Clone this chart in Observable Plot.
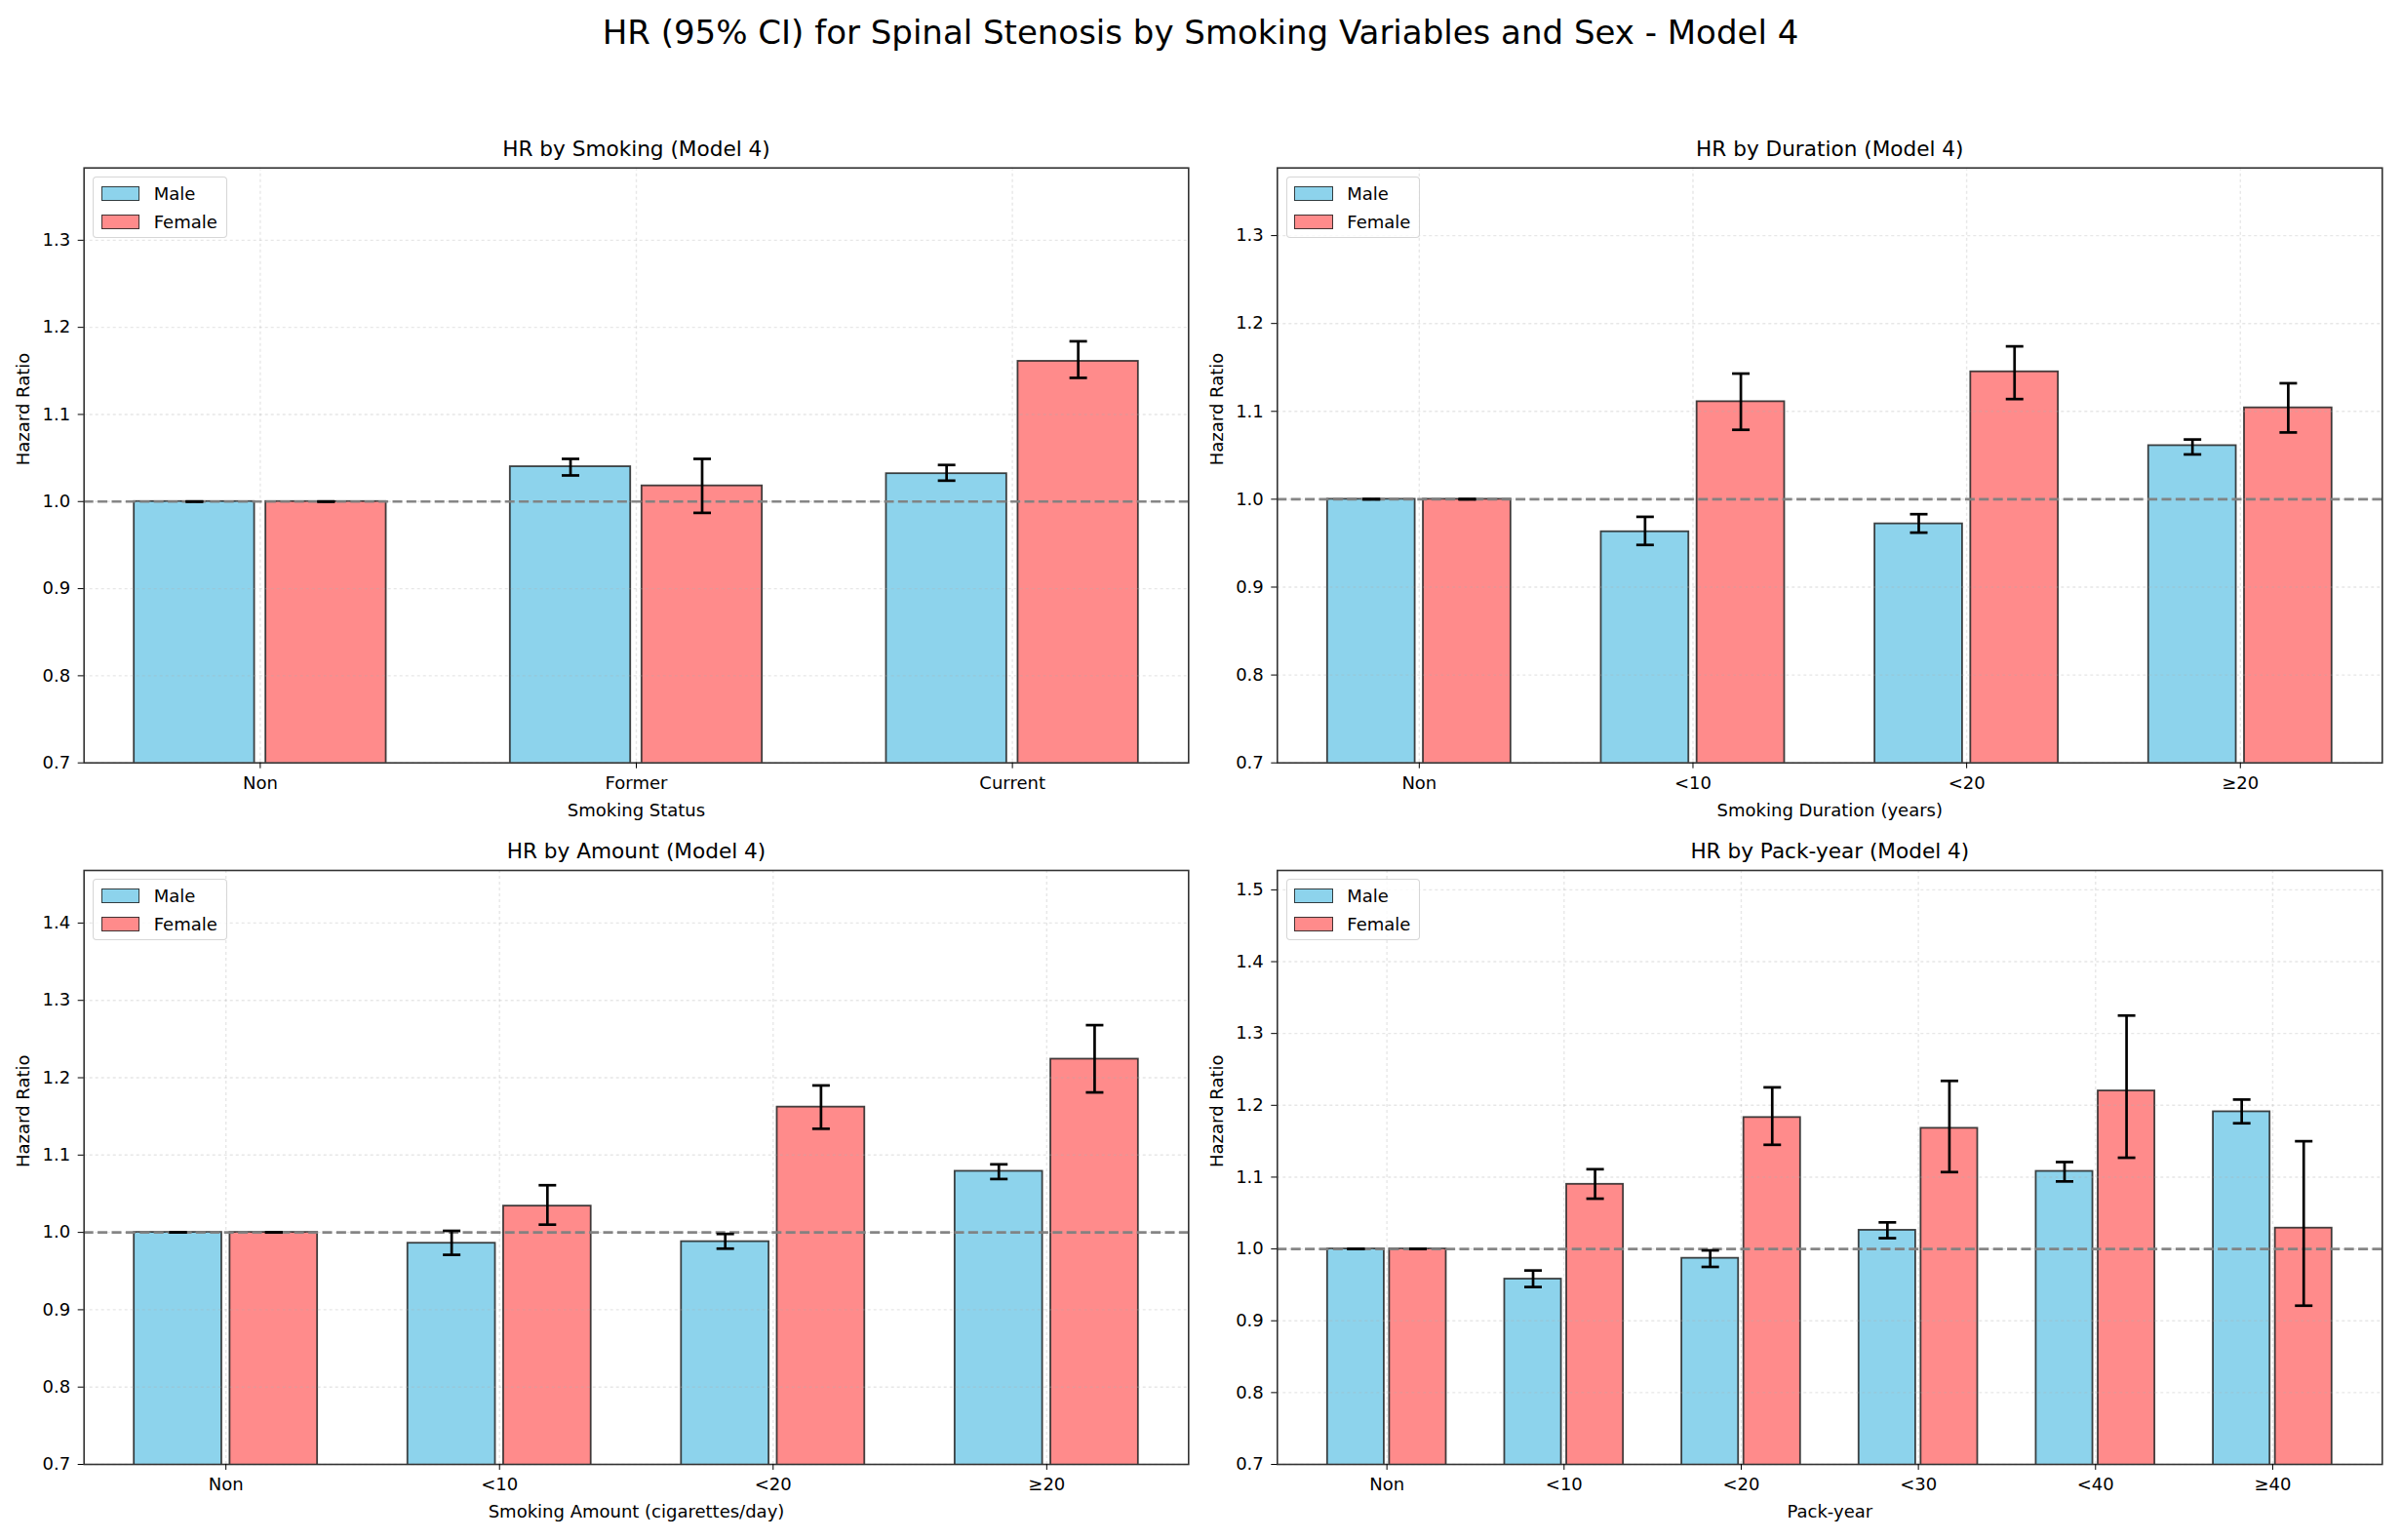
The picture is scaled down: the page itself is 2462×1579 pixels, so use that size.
<!DOCTYPE html>
<html>
<head>
<meta charset="utf-8">
<script src="https://cdn.jsdelivr.net/npm/d3@7"></script>
<script src="https://cdn.jsdelivr.net/npm/@observablehq/plot@0.6"></script>
<style>
  html, body { margin: 0; padding: 0; background: #fff; }
  #root { position: relative; width: 2462px; height: 1579px; overflow: hidden; background: #fff;
          font-family: "DejaVu Sans", sans-serif; color: #000; }
  .suptitle { position: absolute; left: 0; top: 16px; width: 2462px; text-align: center;
              font-size: 34px; line-height: 34px; white-space: nowrap; }
  .panel { position: absolute; }
  .legend { position: absolute; box-sizing: border-box; background: rgba(255,255,255,0.8);
            border: 1.5px solid rgba(204,204,204,0.8); border-radius: 4px; }
  .legend .sw { position: absolute; box-sizing: border-box; border: 1.8px solid rgba(34,34,34,0.85); }
  .legend .lb { position: absolute; font-size: 18px; line-height: 18px; white-space: nowrap; }
</style>
</head>
<body>
<div id="root">
  <div class="suptitle">HR (95% CI) for Spinal Stenosis by Smoking Variables and Sex - Model 4</div>
</div>
<script>
// ---------------- Data ----------------
const sexes = ["Male", "Female"];
const sexColors = ["#8DD3EC", "#FF8B8B"];
const referenceHR = 1.0;

// Smoking status
const smokingCategories = ["Non", "Former", "Current"];
const smokingMaleHR   = [1.000, 1.040, 1.032];
const smokingMaleLo   = [1.000, 1.030, 1.024];
const smokingMaleHi   = [1.000, 1.049, 1.042];
const smokingFemaleHR = [1.000, 1.018, 1.161];
const smokingFemaleLo = [1.000, 0.987, 1.142];
const smokingFemaleHi = [1.000, 1.049, 1.184];

// Smoking duration (years)
const durationCategories = ["Non", "<10", "<20", "≥20"];
const durationMaleHR   = [1.000, 0.963, 0.972, 1.061];
const durationMaleLo   = [1.000, 0.948, 0.962, 1.051];
const durationMaleHi   = [1.000, 0.980, 0.983, 1.068];
const durationFemaleHR = [1.000, 1.111, 1.145, 1.104];
const durationFemaleLo = [1.000, 1.079, 1.114, 1.076];
const durationFemaleHi = [1.000, 1.143, 1.174, 1.132];

// Smoking amount (cigarettes/day)
const amountCategories = ["Non", "<10", "<20", "≥20"];
const amountMaleHR   = [1.000, 0.986, 0.988, 1.079];
const amountMaleLo   = [1.000, 0.971, 0.979, 1.069];
const amountMaleHi   = [1.000, 1.002, 0.998, 1.088];
const amountFemaleHR = [1.000, 1.034, 1.162, 1.224];
const amountFemaleLo = [1.000, 1.010, 1.134, 1.181];
const amountFemaleHi = [1.000, 1.061, 1.190, 1.268];

// Pack-year
const packCategories = ["Non", "<10", "<20", "<30", "<40", "≥40"];
const packMaleHR   = [1.000, 0.958, 0.987, 1.026, 1.108, 1.191];
const packMaleLo   = [1.000, 0.947, 0.975, 1.015, 1.094, 1.175];
const packMaleHi   = [1.000, 0.970, 0.998, 1.037, 1.121, 1.208];
const packFemaleHR = [1.000, 1.090, 1.183, 1.168, 1.220, 1.029];
const packFemaleLo = [1.000, 1.070, 1.145, 1.107, 1.127, 0.921];
const packFemaleHi = [1.000, 1.111, 1.225, 1.234, 1.325, 1.150];

// Y tick labels
const yTicks13 = [0.7, 0.8, 0.9, 1.0, 1.1, 1.2, 1.3];
const yTicks14 = [0.7, 0.8, 0.9, 1.0, 1.1, 1.2, 1.3, 1.4];
const yTicks15 = [0.7, 0.8, 0.9, 1.0, 1.1, 1.2, 1.3, 1.4, 1.5];

const panels = [
  { title: "HR by Smoking (Model 4)", xLabel: "Smoking Status", cats: smokingCategories,
    m: [smokingMaleHR, smokingMaleLo, smokingMaleHi], f: [smokingFemaleHR, smokingFemaleLo, smokingFemaleHi],
    yMin: 0.7, yMax: 1.383, yTicks: yTicks13, col: 0, row: 0 },
  { title: "HR by Duration (Model 4)", xLabel: "Smoking Duration (years)", cats: durationCategories,
    m: [durationMaleHR, durationMaleLo, durationMaleHi], f: [durationFemaleHR, durationFemaleLo, durationFemaleHi],
    yMin: 0.7, yMax: 1.377, yTicks: yTicks13, col: 1, row: 0 },
  { title: "HR by Amount (Model 4)", xLabel: "Smoking Amount (cigarettes/day)", cats: amountCategories,
    m: [amountMaleHR, amountMaleLo, amountMaleHi], f: [amountFemaleHR, amountFemaleLo, amountFemaleHi],
    yMin: 0.7, yMax: 1.468, yTicks: yTicks14, col: 0, row: 1 },
  { title: "HR by Pack-year (Model 4)", xLabel: "Pack-year", cats: packCategories,
    m: [packMaleHR, packMaleLo, packMaleHi], f: [packFemaleHR, packFemaleLo, packFemaleHi],
    yMin: 0.7, yMax: 1.527, yTicks: yTicks15, col: 1, row: 1 }
];

// ---------------- Layout ----------------
const colGeom = [
  { left: 0,    width: 1231, marginLeft: 85.7, marginRight: 12.7 },
  { left: 1231, width: 1231, marginLeft: 78.3, marginRight: 19.7 }
];
const rowGeom = [
  { top: 130, height: 720, marginTop: 41.7, marginBottom: 68.3 },
  { top: 850, height: 729, marginTop: 42.0, marginBottom: 78.0 }
];
const barOffset = 0.175, barHalf = 0.16, barExtent = 0.335;

const capSymbol = { draw(ctx) { ctx.moveTo(-9, 0); ctx.lineTo(9, 0); } };

const root = document.getElementById("root");

panels.forEach(p => {
  const cg = colGeom[p.col], rg = rowGeom[p.row];
  const n = p.cats.length;
  const pad = 0.05 * (n - 1 + 2 * barExtent);
  const rows = [];
  p.cats.forEach((c, i) => {
    rows.push({ cat: c, i, sex: "Male", pos: i - barOffset, hr: p.m[0][i], lo: p.m[1][i], hi: p.m[2][i] });
    rows.push({ cat: c, i, sex: "Female", pos: i + barOffset, hr: p.f[0][i], lo: p.f[1][i], hi: p.f[2][i] });
  });
  const idx = d3.range(n);

  const chart = Plot.plot({
    width: cg.width,
    height: rg.height,
    marginLeft: cg.marginLeft,
    marginRight: cg.marginRight,
    marginTop: rg.marginTop,
    marginBottom: rg.marginBottom,
    style: { fontFamily: "DejaVu Sans, sans-serif", fontSize: "18px", color: "#000", background: "white", overflow: "visible" },
    x: { type: "linear", domain: [-barExtent - pad, n - 1 + barExtent + pad] },
    y: { type: "linear", domain: [p.yMin, p.yMax] },
    color: { domain: sexes, range: sexColors },
    marks: [
      Plot.rectY(rows, {
        x1: d => d.pos - barHalf, x2: d => d.pos + barHalf,
        y1: () => 0, y2: "hr",
        fill: "sex", stroke: "#222", strokeOpacity: 0.85, strokeWidth: 1.8, clip: true
      }),
      Plot.gridX(idx, { stroke: "#b0b0b0", strokeOpacity: 0.3, strokeWidth: 1.4, strokeDasharray: "3,3" }),
      Plot.gridY(p.yTicks, { stroke: "#b0b0b0", strokeOpacity: 0.3, strokeWidth: 1.4, strokeDasharray: "3,3" }),
      Plot.ruleY([referenceHR], { stroke: "#808080", strokeOpacity: 0.95, strokeWidth: 2.7, strokeDasharray: "10,4.4" }),
      Plot.ruleX(rows, { x: "pos", y1: "lo", y2: "hi", stroke: "black", strokeWidth: 2.7 }),
      Plot.dot(rows, { x: "pos", y: "lo", symbol: capSymbol, fill: "none", stroke: "black", strokeWidth: 2.7 }),
      Plot.dot(rows, { x: "pos", y: "hi", symbol: capSymbol, fill: "none", stroke: "black", strokeWidth: 2.7 }),
      Plot.frame({ stroke: "#333", strokeWidth: 1.6 }),
      Plot.axisX({ ticks: idx, tickFormat: i => p.cats[i], tickSize: 6, tickPadding: 8, fontSize: 18, label: null }),
      Plot.axisY({ ticks: p.yTicks, tickFormat: d3.format(".1f"), tickSize: 6, tickPadding: 8, fontSize: 18, label: null }),
      Plot.text([p.title], { frameAnchor: "top", lineAnchor: "middle", dy: -19, fontSize: 21.6, fill: "#000" }),
      Plot.text([p.xLabel], { frameAnchor: "bottom", lineAnchor: "middle", dy: 49, fontSize: 18, fill: "#000" }),
      Plot.text(["Hazard Ratio"], { frameAnchor: "left", dx: -62, rotate: -90, fontSize: 18, fill: "#000" })
    ]
  });

  const wrap = document.createElement("div");
  wrap.className = "panel";
  wrap.style.left = cg.left + "px";
  wrap.style.top = rg.top + "px";
  wrap.style.width = cg.width + "px";
  wrap.style.height = rg.height + "px";
  wrap.appendChild(chart);
  root.appendChild(wrap);

  // Legend (upper left inside the axes)
  const lg = document.createElement("div");
  lg.className = "legend";
  lg.style.left = (cg.left + cg.marginLeft + 9.3) + "px";
  lg.style.top = (rg.top + rg.marginTop + 9.3) + "px";
  lg.style.width = "137.7px";
  lg.style.height = "63px";
  sexes.forEach((s, k) => {
    const sw = document.createElement("div");
    sw.className = "sw";
    sw.style.left = "7.7px";
    sw.style.top = (9 + k * 29) + "px";
    sw.style.width = "39.3px";
    sw.style.height = "15px";
    sw.style.background = sexColors[k];
    lg.appendChild(sw);
    const lb = document.createElement("div");
    lb.className = "lb";
    lb.style.left = "61.7px";
    lb.style.top = (7.5 + k * 29) + "px";
    lb.textContent = s;
    lg.appendChild(lb);
  });
  root.appendChild(lg);
});
</script>
</body>
</html>
